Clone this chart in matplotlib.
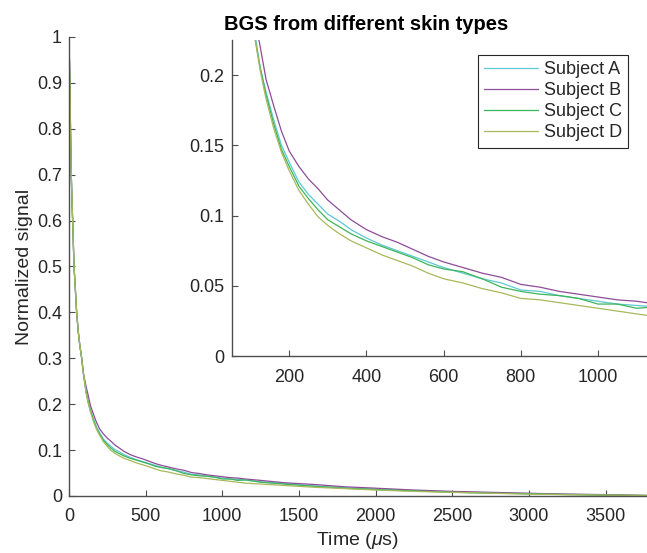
import matplotlib
matplotlib.use('Agg')
import matplotlib.pyplot as plt
from matplotlib.ticker import FuncFormatter, MultipleLocator

# Time axis (microseconds) shared by all subjects
time_us = [0, 3, 6, 10, 15, 20, 25, 33, 40, 50, 60, 70, 83, 95,
           112, 125, 140, 160, 180, 200, 225, 250, 275, 300, 330, 360,
           400, 440, 480, 520, 560, 600, 650, 700, 750, 800, 850, 900,
           950, 1000, 1050, 1100, 1150, 1250, 1400, 1600, 1800, 2000,
           2250, 2500, 2750, 3000, 3250, 3500, 3780]

# Early decay is identical for every subject
early = [1.0, 0.95, 0.9, 0.8, 0.7, 0.64, 0.59, 0.5, 0.46, 0.4, 0.36,
         0.33, 0.30, 0.265]

subject_a = early + [
    0.228, 0.205, 0.188, 0.168, 0.150, 0.138, 0.124, 0.115, 0.108, 0.101,
    0.096, 0.090, 0.084, 0.079, 0.075, 0.071, 0.067, 0.063, 0.059, 0.055,
    0.052, 0.047, 0.046, 0.043, 0.041, 0.039, 0.037, 0.036, 0.035, 0.031,
    0.027, 0.022, 0.018, 0.015, 0.012, 0.009, 0.007, 0.005, 0.004, 0.002,
    0.001]
subject_b = early + [
    0.238, 0.220, 0.197, 0.178, 0.160, 0.146, 0.135, 0.126, 0.119, 0.111,
    0.104, 0.097, 0.090, 0.085, 0.081, 0.076, 0.071, 0.067, 0.063, 0.059,
    0.056, 0.051, 0.049, 0.046, 0.044, 0.042, 0.040, 0.039, 0.037, 0.034,
    0.029, 0.025, 0.020, 0.017, 0.013, 0.010, 0.008, 0.006, 0.004, 0.003,
    0.001]
subject_c = early + [
    0.225, 0.205, 0.186, 0.165, 0.147, 0.135, 0.121, 0.112, 0.104, 0.097,
    0.092, 0.087, 0.082, 0.078, 0.074, 0.070, 0.065, 0.062, 0.060, 0.055,
    0.049, 0.046, 0.044, 0.043, 0.041, 0.037, 0.037, 0.034, 0.035, 0.030,
    0.026, 0.021, 0.017, 0.014, 0.011, 0.008, 0.006, 0.005, 0.003, 0.002,
    0.001]
subject_d = early + [
    0.225, 0.203, 0.183, 0.162, 0.145, 0.132, 0.118, 0.108, 0.099, 0.093,
    0.087, 0.082, 0.077, 0.072, 0.068, 0.064, 0.059, 0.055, 0.052, 0.048,
    0.045, 0.041, 0.040, 0.038, 0.036, 0.034, 0.032, 0.030, 0.028, 0.026,
    0.023, 0.019, 0.016, 0.013, 0.010, 0.008, 0.006, 0.004, 0.003, 0.002,
    0.001]

labels = ['Subject A', 'Subject B', 'Subject C', 'Subject D']
colors = ['#5ec8d5', '#8e4c9a', '#3db55a', '#a9b85a']

plt.rcParams['font.family'] = ['Liberation Sans', 'DejaVu Sans']
plt.rcParams['mathtext.fontset'] = 'custom'
plt.rcParams['mathtext.it'] = 'Liberation Sans:italic'
plt.rcParams['mathtext.rm'] = 'Liberation Sans'


def style_axes(ax):
    for side in ['top', 'right']:
        ax.spines[side].set_visible(False)
    for side in ['left', 'bottom']:
        ax.spines[side].set_color('#4d4d4d')
        ax.spines[side].set_linewidth(1.0)
    ax.tick_params(direction='in', length=4, width=0.8, color='#4d4d4d',
                   labelcolor='#262626', labelsize=13)
    ax.tick_params(axis='x', pad=9)
    ax.tick_params(axis='y', pad=5)
    ax.yaxis.set_major_formatter(FuncFormatter(lambda v, p: f'{v:g}'))


def plot_bgs():
    series = [subject_a, subject_b, subject_c, subject_d]

    fig = plt.figure(figsize=(6.47, 5.53), dpi=100)

    # Main axes
    ax = fig.add_axes([0.1066, 0.1031, 0.8934, 0.8300])
    for ys, c in zip(series, colors):
        ax.plot(time_us, ys, color=c, linewidth=0.9)
    ax.set_xlim(0, 3770)
    ax.set_ylim(0, 1)
    ax.xaxis.set_major_locator(MultipleLocator(500))
    ax.yaxis.set_major_locator(MultipleLocator(0.1))
    style_axes(ax)
    ax.set_xlabel(r'Time ($\mu$s)', fontsize=14, color='#262626', labelpad=3)
    ax.set_ylabel('Normalized signal', fontsize=14, color='#262626',
                  labelpad=3)

    # Zoomed inset
    axin = fig.add_axes([0.3581, 0.3562, 0.6419, 0.5715])
    for ys, c, lab in zip(series, colors, labels):
        axin.plot(time_us, ys, color=c, linewidth=0.9, label=lab)
    axin.set_xlim(51, 1127)
    axin.set_ylim(0, 0.225)
    axin.xaxis.set_major_locator(MultipleLocator(200))
    axin.yaxis.set_major_locator(MultipleLocator(0.05))
    style_axes(axin)

    leg = axin.legend(loc='upper right', bbox_to_anchor=(0.9706, 0.9005),
                      bbox_transform=fig.transFigure, borderaxespad=0,
                      fontsize=13, handlelength=3.0, handletextpad=0.3,
                      labelspacing=0.22, borderpad=0.35, fancybox=False,
                      framealpha=1)
    leg.get_frame().set_edgecolor('#262626')
    leg.get_frame().set_linewidth(0.8)
    for t in leg.get_texts():
        t.set_color('#262626')

    fig.text(0.5657, 0.9557, 'BGS from different skin types', ha='center',
             va='center', fontsize=14.5, fontweight='bold', color='black')

    fig.savefig('out.png', dpi=100)


if __name__ == "__main__":
    plot_bgs()
